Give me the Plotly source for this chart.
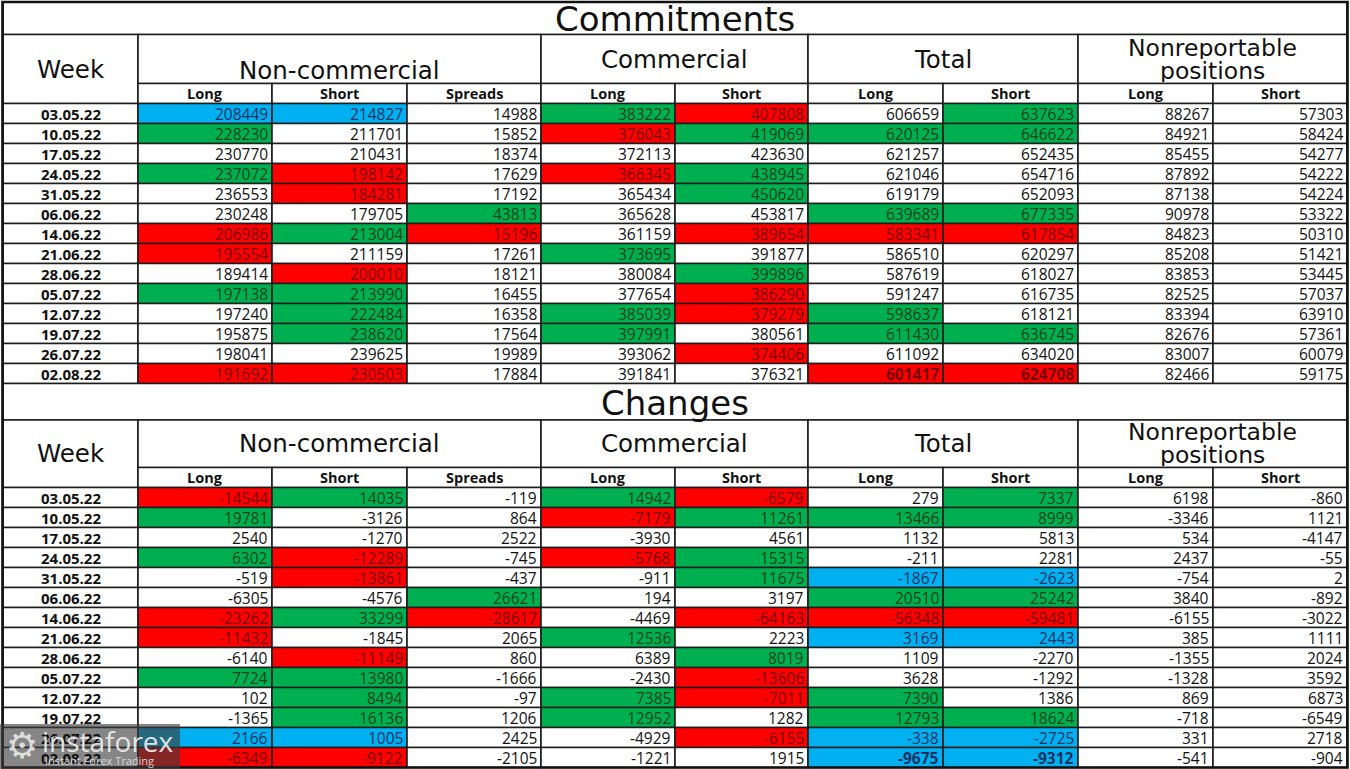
import plotly.graph_objects as go

# ---------------- DATA ----------------
weeks = ["03.05.22", "10.05.22", "17.05.22", "24.05.22", "31.05.22", "06.06.22", "14.06.22",
         "21.06.22", "28.06.22", "05.07.22", "12.07.22", "19.07.22", "26.07.22", "02.08.22"]

group_labels = [["Non-commercial"], ["Commercial"], ["Total"], ["Nonreportable", "positions"]]
group_spans = [3, 2, 2, 2]
sub_labels = ["Long", "Short", "Spreads", "Long", "Short", "Long", "Short", "Long", "Short"]

# Commitments
com_nc_long = [208449, 228230, 230770, 237072, 236553, 230248, 206986, 195554, 189414, 197138, 197240, 195875, 198041, 191692]
com_nc_short = [214827, 211701, 210431, 198142, 184281, 179705, 213004, 211159, 200010, 213990, 222484, 238620, 239625, 230503]
com_nc_spreads = [14988, 15852, 18374, 17629, 17192, 43813, 15196, 17261, 18121, 16455, 16358, 17564, 19989, 17884]
com_c_long = [383222, 376043, 372113, 366345, 365434, 365628, 361159, 373695, 380084, 377654, 385039, 397991, 393062, 391841]
com_c_short = [407808, 419069, 423630, 438945, 450620, 453817, 389654, 391877, 399896, 386290, 379279, 380561, 374406, 376321]
com_t_long = [606659, 620125, 621257, 621046, 619179, 639689, 583341, 586510, 587619, 591247, 598637, 611430, 611092, 601417]
com_t_short = [637623, 646622, 652435, 654716, 652093, 677335, 617854, 620297, 618027, 616735, 618121, 636745, 634020, 624708]
com_nr_long = [88267, 84921, 85455, 87892, 87138, 90978, 84823, 85208, 83853, 82525, 83394, 82676, 83007, 82466]
com_nr_short = [57303, 58424, 54277, 54222, 54224, 53322, 50310, 51421, 53445, 57037, 63910, 57361, 60079, 59175]

# colour codes: G green, R red, B blue, - none; "!" = bold text
com_nc_long_c = "B G - G - - R R - G - - - R".split()
com_nc_short_c = "B - - R R - G - R G G G - R".split()
com_nc_spreads_c = "- - - - - G R - - - - - - -".split()
com_c_long_c = "G R - R - - - G - - G G - -".split()
com_c_short_c = "R G - G G - R - G R R - R -".split()
com_t_long_c = "- G - - - G R - - - G G - R!".split()
com_t_short_c = "G G - - - G R - - - - G - R!".split()
com_nr_long_c = "- - - - - - - - - - - - - -".split()
com_nr_short_c = "- - - - - - - - - - - - - -".split()

# Changes
chg_nc_long = [-14544, 19781, 2540, 6302, -519, -6305, -23262, -11432, -6140, 7724, 102, -1365, 2166, -6349]
chg_nc_short = [14035, -3126, -1270, -12289, -13861, -4576, 33299, -1845, -11149, 13980, 8494, 16136, 1005, -9122]
chg_nc_spreads = [-119, 864, 2522, -745, -437, 26621, -28617, 2065, 860, -1666, -97, 1206, 2425, -2105]
chg_c_long = [14942, -7179, -3930, -5768, -911, 194, -4469, 12536, 6389, -2430, 7385, 12952, -4929, -1221]
chg_c_short = [-6579, 11261, 4561, 15315, 11675, 3197, -64163, 2223, 8019, -13606, -7011, 1282, -6155, 1915]
chg_t_long = [279, 13466, 1132, -211, -1867, 20510, -56348, 3169, 1109, 3628, 7390, 12793, -338, -9675]
chg_t_short = [7337, 8999, 5813, 2281, -2623, 25242, -59481, 2443, -2270, -1292, 1386, 18624, -2725, -9312]
chg_nr_long = [6198, -3346, 534, 2437, -754, 3840, -6155, 385, -1355, -1328, 869, -718, 331, -541]
chg_nr_short = [-860, 1121, -4147, -55, 2, -892, -3022, 1111, 2024, 3592, 6873, -6549, 2718, -904]

chg_nc_long_c = "R G - G - - R R - G - - B R".split()
chg_nc_short_c = "G - - R R - G - R G G G B R".split()
chg_nc_spreads_c = "- - - - - G R - - - - - - -".split()
chg_c_long_c = "G R - R - - - G - - G G - -".split()
chg_c_short_c = "R G - G G - R - G R R - R -".split()
chg_t_long_c = "- G - - B G R B - - G G B B!".split()
chg_t_short_c = "G G - - B G R B - - - G B B!".split()
chg_nr_long_c = "- - - - - - - - - - - - - -".split()
chg_nr_short_c = "- - - - - - - - - - - - - -".split()

sections = [
    dict(title="Commitments",
         cols=[com_nc_long, com_nc_short, com_nc_spreads, com_c_long, com_c_short,
               com_t_long, com_t_short, com_nr_long, com_nr_short],
         codes=[com_nc_long_c, com_nc_short_c, com_nc_spreads_c, com_c_long_c, com_c_short_c,
                com_t_long_c, com_t_short_c, com_nr_long_c, com_nr_short_c]),
    dict(title="Changes",
         cols=[chg_nc_long, chg_nc_short, chg_nc_spreads, chg_c_long, chg_c_short,
               chg_t_long, chg_t_short, chg_nr_long, chg_nr_short],
         codes=[chg_nc_long_c, chg_nc_short_c, chg_nc_spreads_c, chg_c_long_c, chg_c_short_c,
                chg_t_long_c, chg_t_short_c, chg_nr_long_c, chg_nr_short_c]),
]

# ---------------- STYLE / LAYOUT ----------------
W, H = 1350, 769
col_edges = [3, 138, 272, 407, 541, 675, 808, 943, 1078, 1213, 1347]
sec_geom = [dict(top=2, title_h=32.5, group_h=49, sub_h=20, row_h=20, nc_dy=11),
            dict(top=383.5, title_h=36.5, group_h=47.5, sub_h=20, row_h=20, nc_dy=0)]
fills = {"G": "#00B050", "R": "#FF0000", "B": "#00B0F0", "-": "#FFFFFF"}
txtc = {"G": "#0A4418", "R": "#760000", "B": "#0C3262", "-": "#111111"}
LINE = "#1c1c1c"
LW = 1.6
HEAD_FONT = "DejaVu Sans, Verdana, sans-serif"
CELL_FONT = "Open Sans, Noto Sans, sans-serif"
HEAD_LINE_GAP = 23

shapes = []
annotations = []


def rect(x0, x1, y0, y1, fill="#FFFFFF", lw=LW):
    shapes.append(dict(type="rect", xref="x", yref="y", x0=x0, x1=x1, y0=y0, y1=y1,
                       fillcolor=fill, line=dict(color=LINE, width=lw), layer="above"))


def text(x, y, s, size, family, color="#111111", xanchor="center", height=None):
    ann = dict(x=x, y=y, xref="x", yref="y", text=s, showarrow=False,
               xanchor=xanchor, yanchor="middle",
               font=dict(size=size, family=family, color=color))
    if height is not None:
        ann["height"] = height
        ann["valign"] = "middle"
        ann["borderpad"] = 0
    annotations.append(ann)


for sec, g in zip(sections, sec_geom):
    y_title0 = g["top"]
    y_group0 = y_title0 + g["title_h"]
    y_sub0 = y_group0 + g["group_h"]
    y_data0 = y_sub0 + g["sub_h"]
    left, right = col_edges[0], col_edges[-1]

    # title row
    rect(left, right, y_title0, y_group0)
    text((left + right) / 2, (y_title0 + y_group0) / 2 + 1, sec["title"], 34, HEAD_FONT)

    # Week header (spans group + sub rows)
    rect(col_edges[0], col_edges[1], y_group0, y_data0)
    text((col_edges[0] + col_edges[1]) / 2, (y_group0 + y_data0) / 2, "Week", 24.5, HEAD_FONT)

    # group headers
    ci = 1
    for gi, (lines, span) in enumerate(zip(group_labels, group_spans)):
        x0, x1 = col_edges[ci], col_edges[ci + span]
        rect(x0, x1, y_group0, y_sub0)
        dy = g["nc_dy"] if gi == 0 else 0
        yc = (y_group0 + y_sub0) / 2 + dy
        n = len(lines)
        for k, ln in enumerate(lines):
            yk = yc + (k - (n - 1) / 2) * HEAD_LINE_GAP
            if n == 1:
                text((x0 + x1) / 2, yk, ln, 24.5, HEAD_FONT)
            else:
                text((x0 + x1) / 2, yk, ln, 23.5, HEAD_FONT, height=HEAD_LINE_GAP - 1)
        ci += span

    # sub headers
    for j, lab in enumerate(sub_labels):
        x0, x1 = col_edges[j + 1], col_edges[j + 2]
        rect(x0, x1, y_sub0, y_data0)
        text((x0 + x1) / 2, (y_sub0 + y_data0) / 2, "<b>" + lab + "</b>", 14.5, CELL_FONT)

    # data rows
    for i, wk in enumerate(weeks):
        y0 = y_data0 + i * g["row_h"]
        y1 = y0 + g["row_h"]
        rect(col_edges[0], col_edges[1], y0, y1)
        text((col_edges[0] + col_edges[1]) / 2, (y0 + y1) / 2, "<b>" + wk + "</b>", 15, CELL_FONT)
        for j, (vals, codes) in enumerate(zip(sec["cols"], sec["codes"])):
            code = codes[i]
            bold = code.endswith("!")
            key = code.rstrip("!")
            x0, x1 = col_edges[j + 1], col_edges[j + 2]
            rect(x0, x1, y0, y1, fill=fills[key])
            s = str(vals[i])
            if bold:
                s = "<b>" + s + "</b>"
            text(x1 - 2, (y0 + y1) / 2, s, 15.5, CELL_FONT, color=txtc[key], xanchor="right")

# outer border
shapes.append(dict(type="rect", xref="x", yref="y", x0=col_edges[0] - 0.5, x1=col_edges[-1] + 0.5,
                   y0=sec_geom[0]["top"], y1=767.5, line=dict(color="#111111", width=2.6),
                   fillcolor="rgba(0,0,0,0)", layer="above"))

# watermark
shapes.append(dict(type="rect", xref="x", yref="y", x0=0, x1=180, y0=724, y1=769,
                   fillcolor="rgba(60,60,60,0.62)", line=dict(width=0), layer="above"))
annotations.append(dict(x=22, y=745, xref="x", yref="y", text="⚙", showarrow=False,
                        font=dict(size=36, color="rgba(235,235,235,0.9)", family="DejaVu Sans"),
                        xanchor="center", yanchor="middle"))
annotations.append(dict(x=40, y=741, xref="x", yref="y", text="instaforex", showarrow=False,
                        font=dict(size=28, color="rgba(240,240,240,0.92)", family="Open Sans"),
                        xanchor="left", yanchor="middle"))
annotations.append(dict(x=43, y=760, xref="x", yref="y", text="Instant Forex Trading", showarrow=False,
                        font=dict(size=11, color="rgba(225,225,225,0.9)", family="Open Sans"),
                        xanchor="left", yanchor="middle"))

fig = go.Figure()
fig.update_layout(
    width=W, height=H,
    margin=dict(l=0, r=0, t=0, b=0),
    paper_bgcolor="white", plot_bgcolor="white",
    xaxis=dict(range=[0, W], visible=False, fixedrange=True),
    yaxis=dict(range=[H, 0], visible=False, fixedrange=True),
    shapes=shapes, annotations=annotations, showlegend=False,
)
fig.write_html("out.html", config={"displayModeBar": False},
               post_script="document.body.style.margin='0';document.body.style.overflow='hidden';")
